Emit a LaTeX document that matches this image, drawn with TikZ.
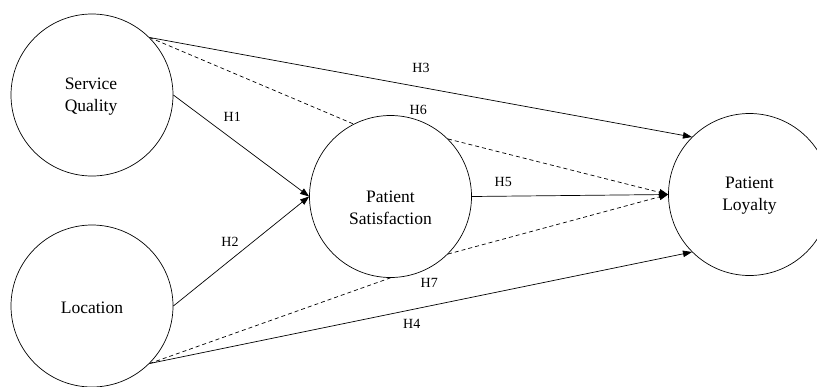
\documentclass[tikz,border=0pt]{standalone}
\usepackage{fontspec}
\setmainfont{Liberation Serif}
\usetikzlibrary{arrows.meta}
\begin{document}
\begin{tikzpicture}[x=1pt,y=-1pt,
  construct/.style={draw, circle, line width=0.7pt, minimum size=162pt, inner sep=0pt},
  ctext/.style={align=center, font=\fontsize{17.5}{22}\selectfont, inner sep=0pt},
  hlab/.style={font=\fontsize{14}{16}\selectfont, inner sep=0pt},
  path/.style={line width=0.7pt, -{Triangle[length=9pt,width=6.5pt]}},
  dpath/.style={line width=0.7pt, dash pattern=on 4pt off 3pt},
  dpatharrow/.style={dpath, -{Triangle[length=9pt,width=6.5pt]}}]
\useasboundingbox (0,0) rectangle (817,386);
\node[construct] (sq) at (92,95) {};
\node[construct] (loc) at (92,306) {};
\node[construct] (ps) at (390.5,196.5) {};
\node[construct] (pl) at (749.5,194.5) {};
\node[ctext] (sqt) at (91,96.5) {Service\\Quality};
\node[ctext] (loct) at (92,308) {Location};
\node[ctext] (pst) at (390.5,208) {Patient\\Satisfaction};
\node[ctext] (plt) at (749.5,195.5) {Patient\\Loyalty};
% solid paths
\draw[path] (sq.east) -- (ps.west);
\draw[path] (loc.east) -- (ps.west);
\draw[path] (sq.45) -- (pl.135);
\draw[path] (loc.-45) -- (pl.-135);
\draw[path] (ps.east) -- (pl.west);
% dashed mediation paths
\draw[dpath] (sq.45) -- (ps.117);
\draw[dpatharrow] (ps.45) -- (pl.west);
\draw[dpath] (loc.-45) -- (ps.south);
\draw[dpatharrow] (ps.-45) -- (pl.west);
% labels
\node[hlab] (h1) at (232.3,116.7) {H1};
\node[hlab] (h2) at (230,241.7) {H2};
\node[hlab] (h3) at (421,67.7) {H3};
\node[hlab] (h4) at (411.7,324) {H4};
\node[hlab] (h5) at (503.3,181.7) {H5};
\node[hlab] (h6) at (418.3,110) {H6};
\node[hlab] (h7) at (429.3,282.7) {H7};
\end{tikzpicture}
\end{document}
